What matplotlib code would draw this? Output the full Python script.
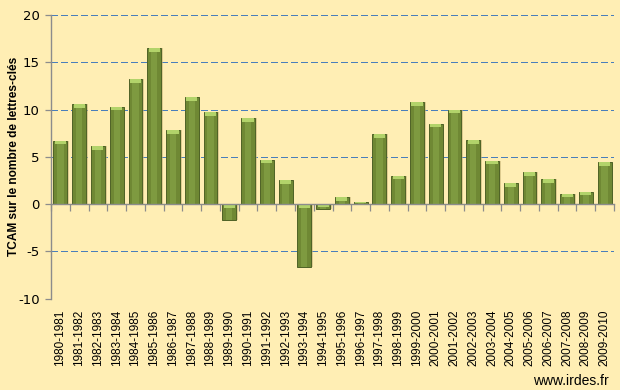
import matplotlib
matplotlib.use("Agg")
import matplotlib.pyplot as plt
import numpy as np

periods = ["1980-1981", "1981-1982", "1982-1983", "1983-1984", "1984-1985",
           "1985-1986", "1986-1987", "1987-1988", "1988-1989", "1989-1990",
           "1990-1991", "1991-1992", "1992-1993", "1993-1994", "1994-1995",
           "1995-1996", "1996-1997", "1997-1998", "1998-1999", "1999-2000",
           "2000-2001", "2001-2002", "2002-2003", "2003-2004", "2004-2005",
           "2005-2006", "2006-2007", "2007-2008", "2008-2009", "2009-2010"]
tcam = [6.7, 10.6, 6.1, 10.3, 13.2, 16.5, 7.8, 11.3, 9.7, -1.7,
        9.1, 4.7, 2.5, -6.7, -0.5, 0.7, 0.2, 7.4, 3.0, 10.8,
        8.5, 10.0, 6.8, 4.6, 2.2, 3.4, 2.6, 1.1, 1.3, 4.4]
yticks = [-10, -5, 0, 5, 10, 15, 20]

bg = "#FFEEB4"
bar_col = "#6F8834"
mid_col = "#7E9A40"
edge_col = "#4E6226"
cap_col = "#B2D36A"
grid_col = "#4A7EBB"
axis_col = "#8C8C8C"

fig = plt.figure(figsize=(6.2, 3.9), dpi=100, facecolor=bg)
ax = fig.add_axes([51/620, 91.5/390, 563/620, 283.5/390])
ax.set_facecolor(bg)

x = np.arange(len(periods))
w = 0.74
# shadow
ax.bar(x + 0.09, tcam, width=w, color="#C2AF72", alpha=0.55, zorder=2, linewidth=0)
ax.bar(x, tcam, width=w, color=bar_col, edgecolor=edge_col, linewidth=0.7, zorder=3)
ax.bar(x, tcam, width=w * 0.45, color=mid_col, linewidth=0, zorder=3.5)
# light top caps
tops = [max(v, 0) for v in tcam]
cap_h = [min(0.4, abs(v) * 0.6) for v in tcam]
ax.bar(x, cap_h, bottom=[t - c for t, c in zip(tops, cap_h)], width=w * 0.8,
       color=cap_col, linewidth=0, zorder=4)

ax.set_xlim(-0.5, len(periods) - 0.5)
ax.set_ylim(-10, 20)
ax.set_yticks(yticks)
ax.set_yticklabels([str(v) for v in yticks], fontsize=9.5, family="DejaVu Sans")
for v in yticks:
    if v != 0:
        ax.axhline(v, color=grid_col, linestyle=(0, (5.8, 2.9)), linewidth=0.75,
                   zorder=1, antialiased=False)

ax.set_xticks(x)
ax.set_xticklabels(periods, rotation=90, fontsize=8.5, family="Liberation Sans")
ax.tick_params(axis="x", length=0, pad=8)
ax.tick_params(axis="y", length=4, color=axis_col, width=0.9, pad=4)

for s in ["top", "right", "bottom"]:
    ax.spines[s].set_visible(False)
ax.spines["left"].set_color(axis_col)
ax.spines["left"].set_linewidth(1.0)

sec = ax.secondary_xaxis(1/3)
sec.set_xticks([])
sec.set_xticks(np.arange(len(periods) + 1) - 0.5, minor=True)
sec.tick_params(axis="x", which="minor", direction="out", length=5, color=axis_col, width=0.9, labelbottom=False)
sec.tick_params(axis="x", which="major", length=0, labelbottom=False)
sec.spines["bottom"].set_color(axis_col)
sec.spines["bottom"].set_linewidth(1.0)
sec.set_zorder(5)

ax.set_ylabel("TCAM sur le nombre de lettres-clés", fontsize=8.6, fontweight="bold",
              family="Liberation Sans")
ax.yaxis.set_label_coords(-31/563, 0.5)

fig.text(609/620, 1 - 381/390, "www.irdes.fr", ha="right", va="center",
         fontsize=10, family="Liberation Sans")

fig.savefig("out.png", dpi=100, facecolor=bg)
